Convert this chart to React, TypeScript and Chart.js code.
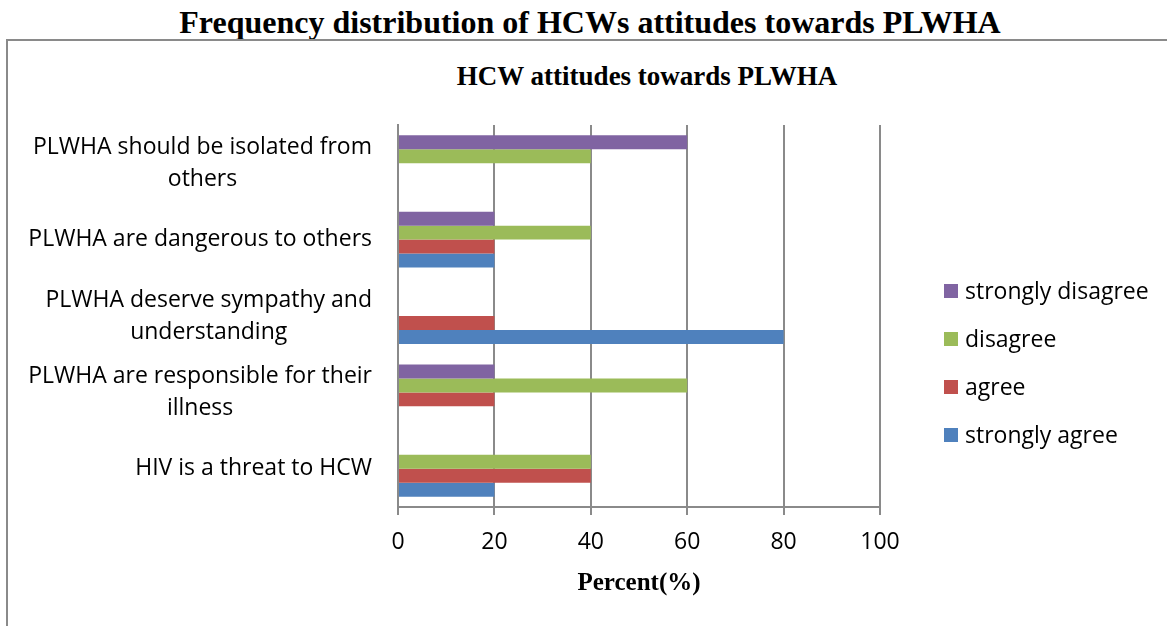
import React, { useEffect, useRef } from 'react';
import { Chart, registerables } from 'chart.js';

Chart.register(...registerables);

const mainTitle = 'Frequency distribution of HCWs attitudes towards PLWHA';
const chartTitle = 'HCW attitudes towards PLWHA';
const xAxisTitle = 'Percent(%)';

const categories: string[][] = [
  ['PLWHA should be isolated from', 'others'],
  ['PLWHA are dangerous to others'],
  ['PLWHA deserve sympathy and', 'understanding'],
  ['PLWHA are responsible for their', 'illness'],
  ['HIV is a threat to HCW'],
];

const seriesNames = ['strongly disagree', 'disagree', 'agree', 'strongly agree'];
const stronglyDisagree = [60, 20, 0, 20, 0];
const disagree = [40, 40, 0, 60, 40];
const agree = [0, 20, 20, 20, 40];
const stronglyAgree = [0, 20, 80, 0, 20];
const seriesColors = ['#8064A2', '#9BBB59', '#C0504D', '#4F81BD'];

const xMin = 0;
const xMax = 100;
const xStep = 20;

const SANS = '"Open Sans", "Noto Sans", sans-serif';
const SERIF = '"Liberation Serif", "Times New Roman", serif';

const overlayPlugin = {
  id: 'overlay',
  afterDraw(chart: any) {
    const ctx = chart.ctx;
    const yScale = chart.scales.y;
    ctx.save();
    ctx.font = `23px ${SANS}`;
    ctx.fillStyle = '#000';
    ctx.textBaseline = 'middle';
    ctx.textAlign = 'center';
    const rightEdge = yScale.right - 26;
    const lh = 32;
    categories.forEach((lines, i) => {
      const cy = yScale.getPixelForValue(i);
      const maxW = Math.max(...lines.map((l) => ctx.measureText(l).width));
      const cx = rightEdge - maxW / 2;
      lines.forEach((l, j) => {
        ctx.fillText(l, cx, cy + (j - (lines.length - 1) / 2) * lh);
      });
    });
    // legend
    ctx.textAlign = 'left';
    const lx = 944;
    const ly = 291;
    const step = 48;
    chart.data.datasets.forEach((ds: any, i: number) => {
      const cy = ly + i * step;
      ctx.fillStyle = ds.backgroundColor;
      ctx.fillRect(lx, cy - 7, 14, 14);
      ctx.fillStyle = '#000';
      ctx.fillText(ds.label, lx + 21, cy + 1);
    });
    ctx.restore();
  },
};

export default function App() {
  const ref = useRef<HTMLCanvasElement | null>(null);

  useEffect(() => {
    if (!ref.current) return;
    const seriesData = [stronglyDisagree, disagree, agree, stronglyAgree];
    const chart = new Chart(ref.current, {
      type: 'bar',
      data: {
        labels: categories.map((c) => c.join(' ')),
        datasets: seriesNames.map((name, i) => ({
          label: name,
          data: seriesData[i],
          backgroundColor: seriesColors[i],
          borderWidth: 0,
          categoryPercentage: 0.73,
          barPercentage: 1.0,
        })),
      },
      options: {
        indexAxis: 'y',
        animation: false,
        responsive: false,
        devicePixelRatio: 1,
        layout: { padding: { left: 0, top: 125, right: 287, bottom: 0 } },
        plugins: {
          legend: { display: false },
          tooltip: { enabled: false },
          title: { display: false },
        },
        scales: {
          x: {
            type: 'linear',
            min: xMin,
            max: xMax,
            ticks: {
              stepSize: xStep,
              color: '#000',
              font: { family: SANS, size: 23 },
              padding: 14,
            },
            grid: { color: '#8a8a8a', lineWidth: 2, tickLength: 8, drawTicks: true },
            border: { display: true, color: '#8a8a8a', width: 2 },
            title: {
              display: true,
              text: xAxisTitle,
              color: '#000',
              font: { family: SERIF, size: 25, weight: 'bold' },
              padding: { top: 0, bottom: 27 },
            },
            afterFit: (s: any) => {
              s.height = 119;
            },
          },
          y: {
            type: 'category',
            ticks: { display: false },
            grid: { display: false },
            border: { display: true, color: '#8a8a8a', width: 2 },
            afterFit: (s: any) => {
              s.width = 398;
            },
          },
        },
      } as any,
      plugins: [overlayPlugin],
    });
    return () => chart.destroy();
  }, []);

  return (
    <div
      style={{
        position: 'fixed',
        left: 0,
        top: 0,
        width: 1167,
        height: 626,
        overflow: 'hidden',
        background: '#fff',
      }}
    >
      <div
        style={{
          position: 'absolute',
          left: 0,
          top: 4,
          width: 1180,
          textAlign: 'center',
          fontFamily: SERIF,
          fontWeight: 'bold',
          fontSize: 32,
          lineHeight: '36px',
          color: '#000',
          whiteSpace: 'nowrap',
        }}
      >
        {mainTitle}
      </div>
      <div
        style={{
          position: 'absolute',
          left: 6,
          top: 39,
          width: 1200,
          height: 700,
          borderTop: '2px solid #8a8a8a',
          borderLeft: '2px solid #8a8a8a',
          boxSizing: 'border-box',
        }}
      />
      <div
        style={{
          position: 'absolute',
          left: 447,
          top: 60,
          width: 400,
          textAlign: 'center',
          fontFamily: SERIF,
          fontWeight: 'bold',
          fontSize: 27,
          lineHeight: '32px',
          color: '#000',
          whiteSpace: 'nowrap',
        }}
      >
        {chartTitle}
      </div>
      <canvas
        ref={ref}
        width={1167}
        height={626}
        style={{ position: 'absolute', left: 0, top: 0, width: 1167, height: 626 }}
      />
    </div>
  );
}
